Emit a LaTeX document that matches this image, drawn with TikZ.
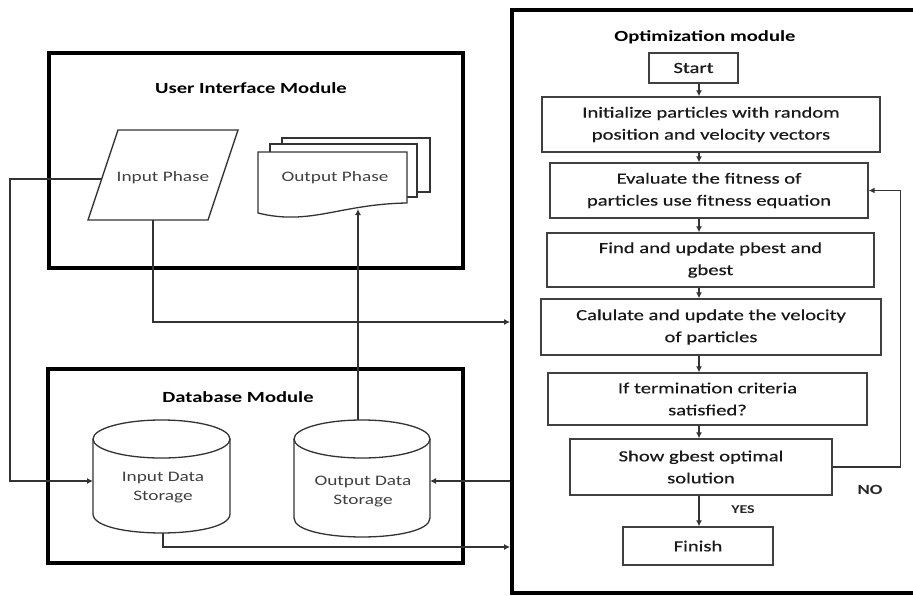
\documentclass[tikz,border=0pt]{standalone}
\usepackage{fontspec}
\setmainfont{Carlito}[FakeStretch=1.33]
\newfontfamily\flowfont{Carlito}[FakeStretch=1.33, FakeBold=0.4]
\usetikzlibrary{arrows.meta,calc}
\begin{document}
\begin{tikzpicture}[x=1pt,y=-1pt,
  ln/.style={line width=1.3pt, draw=black!80},
  arr/.style={ln, -{Latex[length=6pt,width=6pt]}},
  modframe/.style={draw=black, line width=3.8pt, inner sep=0pt},
  fbox/.style={draw=black!75, line width=1.4pt, inner sep=0pt, align=center, font=\flowfont\fontsize{15.5}{22}\selectfont, text=black!90},
  lt/.style={font=\fontsize{14.5}{19}\selectfont, text=black!75, align=center, inner sep=0pt},
  ttl/.style={font=\bfseries\fontsize{15.5}{19}\selectfont, inner sep=0pt},
  lbl/.style={font=\bfseries\fontsize{#1}{16}\selectfont, inner sep=0pt, text=black!85},
]
\useasboundingbox (0,0) rectangle (913,595);
\fill[white] (0,0) rectangle (913,595);

% module frames
\node[modframe, minimum width=414pt, minimum height=215pt] (ui) at (256,160.5) {};
\node[modframe, minimum width=415pt, minimum height=194pt] (db) at (255.5,466) {};
\node[modframe, minimum width=413pt, minimum height=583pt] (opt) at (718.5,301.5) {};

% titles
\node[ttl] (uit) at (251,88) {User Interface Module};
\node[ttl] (dbt) at (238,397) {Database Module};
\node[ttl] (optt) at (705,37) {Optimization module};

% input phase (parallelogram)
\draw[ln, fill=white] (118,130) -- (238,130) -- (208,220) -- (88,220) -- cycle;
\node[lt] (inp) at (163,178) {Input Phase};
\coordinate (inpL) at (101.7,179);
\coordinate (inpB) at (153,220);

% output phase (multi-document)
\draw[ln, fill=white] (282,138) rectangle (430,192);
\draw[ln, fill=white] (270,144) rectangle (417,197);
\draw[ln, fill=white] (258,152) -- (407,152) -- (407,203) .. controls (340,204) and (310,226) .. (258,213) -- cycle;
\node[lt] (outp) at (335,178) {Output Phase};
\coordinate (outpB) at (358,209);

% input data storage (cylinder)
\draw[ln, fill=white] (93,439) -- (93,514) .. controls (93,539.3) and (230,539.3) .. (230,514) -- (230,439);
\draw[ln, fill=white] (161.5,439) ellipse [x radius=68.5pt, y radius=19pt];
\node[lt] (inds) at (163,488) {Input Data\\Storage};
\coordinate (indsW) at (93,481);
\coordinate (indsB) at (163,533);

% output data storage (cylinder)
\draw[ln, fill=white] (294,439) -- (294,518) .. controls (294,543.3) and (430,543.3) .. (430,518) -- (430,439);
\draw[ln, fill=white] (362,439) ellipse [x radius=68pt, y radius=19pt];
\node[lt] (outds) at (363,492) {Output Data\\Storage};
\coordinate (outdsE) at (430,481);
\coordinate (outdsT) at (358,420);

% connectors on the left
\draw[arr] (inpL) -- ++(-91.7,0) |- (indsW);
\draw[arr] (inpB) |- (opt.west |- 0,322);
\draw[arr] (opt.west |- outdsE) -- (outdsE);
\draw[arr] (indsB) |- (opt.west |- 0,547);
\draw[arr] (outdsT) -- (outpB);

% flowchart
\node[fbox, minimum width=89pt, minimum height=30pt] (start) at (693.5,68) {Start};
\node[fbox, minimum width=338pt, minimum height=55pt] (init) at (711,124.5) {Initialize particles with random\\position and velocity vectors};
\node[fbox, minimum width=318pt, minimum height=55pt] (eval) at (709,190.5) {Evaluate the fitness of\\particles use fitness equation};
\node[fbox, minimum width=327pt, minimum height=54pt] (find) at (710.5,260) {Find and update pbest and\\gbest};
\node[fbox, minimum width=340pt, minimum height=56pt] (calc) at (711,327) {Calulate and update the velocity\\of particles};
\node[fbox, minimum width=319pt, minimum height=52pt] (term) at (707.5,399) {If termination criteria\\satisfied?};
\node[fbox, minimum width=262pt, minimum height=56pt] (show) at (701,467) {Show gbest optimal\\solution};
\node[fbox, minimum width=150pt, minimum height=38pt] (finish) at (698,546) {Finish};

\foreach \a/\b in {start/init, init/eval, eval/find, find/calc, calc/term, term/show, show/finish}
  \draw[arr] (\a.south -| 699,0) -- (\b.north -| 699,0);

\draw[arr] (show.east) -- ++(68,0) |- (eval.east);

\node[lbl=12] (yes) at (743,510) {YES};
\node[lbl=14] (no) at (870,490) {NO};
\end{tikzpicture}
\end{document}
